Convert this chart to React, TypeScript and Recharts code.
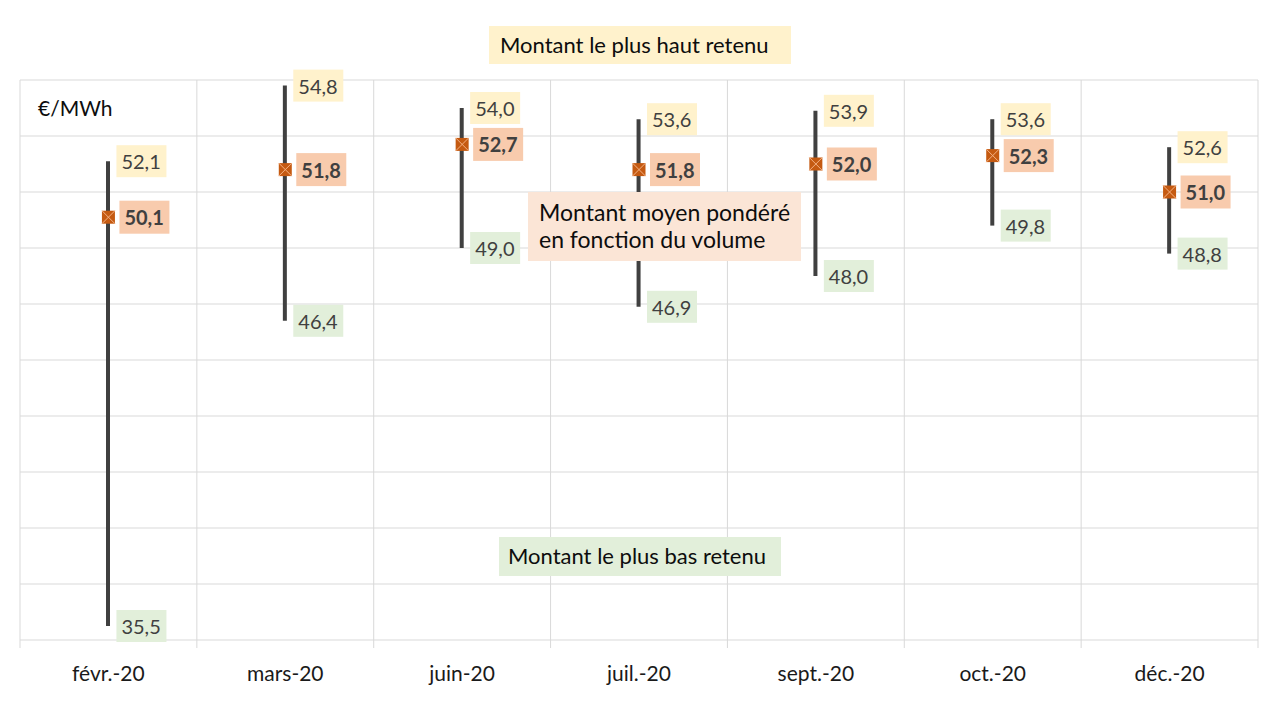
import React from "react";
import { ComposedChart, Bar, Line, XAxis, YAxis, CartesianGrid } from "recharts";

const categories = ["févr.-20", "mars-20", "juin-20", "juil.-20", "sept.-20", "oct.-20", "déc.-20"];
const highValues = [52.1, 54.8, 54.0, 53.6, 53.9, 53.6, 52.6];
const avgValues = [50.1, 51.8, 52.7, 51.8, 52.0, 52.3, 51.0];
const lowValues = [35.5, 46.4, 49.0, 46.9, 48.0, 49.8, 48.8];
const yTicks = [35, 37, 39, 41, 43, 45, 47, 49, 51, 53, 55];

const data = categories.map((c, i) => ({
  cat: c,
  high: highValues[i],
  avg: avgValues[i],
  low: lowValues[i],
  range: [lowValues[i], highValues[i]],
}));

const W = 1280;
const H = 720;
const M = { top: 80, right: 22, left: 20, bottom: 0 };
const AXIS_H = 80;
const PLOT_W = W - M.left - M.right;
const PLOT_BOTTOM = H - M.bottom - AXIS_H;
const FONT = "Lato, 'Open Sans', sans-serif";
const GRID = "#D9D9D9";

const fmt = (v: number) => v.toFixed(1).replace(".", ",");

const ValueBox = (props: any) => {
  const { cx, cy, value, fill, bold, dx, index } = props;
  if (cx == null || cy == null) return <g key={index} />;
  const w = 50;
  const h = bold ? 33 : 32;
  return (
    <g key={`${fill}-${index}`}>
      <rect x={cx + dx} y={cy - h / 2} width={w} height={h} fill={fill} />
      <text
        x={cx + dx + 5}
        y={cy}
        dominantBaseline="central"
        fontFamily={FONT}
        fontSize={20}
        fontWeight={bold ? 700 : 400}
        fill="#404040"
      >
        {fmt(value)}
      </text>
    </g>
  );
};

const AvgDot = (props: any) => {
  const { cx, cy, index } = props;
  if (cx == null || cy == null) return <g key={index} />;
  const s = 6.5;
  return (
    <g key={`avg-${index}`}>
      <rect x={cx - s} y={cy - s} width={2 * s} height={2 * s} fill="#C55A11" />
      <line x1={cx - s} y1={cy - s} x2={cx + s} y2={cy + s} stroke="#F4B183" strokeWidth={1} />
      <line x1={cx - s} y1={cy + s} x2={cx + s} y2={cy - s} stroke="#F4B183" strokeWidth={1} />
      <ValueBox {...props} fill="#F8CBAD" bold dx={11} />
    </g>
  );
};

const XTick = (props: any) => {
  const { x, payload, index } = props;
  const band = PLOT_W / categories.length;
  return (
    <g>
      <line x1={x - band / 2} y1={PLOT_BOTTOM} x2={x - band / 2} y2={PLOT_BOTTOM + 8} stroke={GRID} />
      {index === categories.length - 1 && (
        <line x1={x + band / 2} y1={PLOT_BOTTOM} x2={x + band / 2} y2={PLOT_BOTTOM + 8} stroke={GRID} />
      )}
      <text
        x={x}
        y={PLOT_BOTTOM + 32}
        textAnchor="middle"
        dominantBaseline="central"
        fontFamily={FONT}
        fontSize={21}
        fill="#1a1a1a"
      >
        {payload.value}
      </text>
    </g>
  );
};

const boxStyle: React.CSSProperties = {
  position: "absolute",
  fontFamily: FONT,
  fontSize: 22,
  color: "#0d0d0d",
  boxSizing: "border-box",
  lineHeight: "28px",
  whiteSpace: "nowrap",
};

export default function App() {
  return (
    <div style={{ position: "absolute", left: 0, top: 0, width: W, height: H, background: "#fff" }}>
      <ComposedChart width={W} height={H} data={data} margin={M}>
        <CartesianGrid
          stroke={GRID}
          verticalCoordinatesGenerator={({ offset }: any) =>
            categories.map((_, i) => offset.left + (i * offset.width) / categories.length).concat([offset.left + offset.width])
          }
        />
        <XAxis dataKey="cat" height={AXIS_H} axisLine={false} tickLine={false} tick={<XTick />} interval={0} />
        <YAxis hide domain={[35, 55]} ticks={yTicks} />
        <Bar dataKey="range" barSize={4} fill="#404040" isAnimationActive={false} />
        <Line
          dataKey="high"
          stroke="none"
          isAnimationActive={false}
          activeDot={false}
          dot={(p: any) => <ValueBox {...p} key={`h${p.index}`} fill="#FFF2CC" dx={8} />}
        />
        <Line
          dataKey="low"
          stroke="none"
          isAnimationActive={false}
          activeDot={false}
          dot={(p: any) => <ValueBox {...p} key={`l${p.index}`} fill="#E2EFDA" dx={8} />}
        />
        <Line
          dataKey="avg"
          stroke="none"
          isAnimationActive={false}
          activeDot={false}
          dot={(p: any) => <AvgDot {...p} key={`a${p.index}`} />}
        />
      </ComposedChart>
      <div style={{ ...boxStyle, left: 38, top: 94, fontSize: 21 }}>€/MWh</div>
      <div style={{ ...boxStyle, left: 489, top: 26, width: 302, height: 38, background: "#FFF2CC", padding: "5px 0 0 11px" }}>
        Montant le plus haut retenu
      </div>
      <div style={{ ...boxStyle, left: 528, top: 192, width: 273, height: 69, background: "#FBE5D6", padding: "7px 0 0 11px", fontSize: 23, lineHeight: "27px" }}>
        Montant moyen pondéré
        <br />
        en fonction du volume
      </div>
      <div style={{ ...boxStyle, left: 499, top: 537, width: 282, height: 39, background: "#E2EFDA", padding: "5px 0 0 9px" }}>
        Montant le plus bas retenu
      </div>
    </div>
  );
}
